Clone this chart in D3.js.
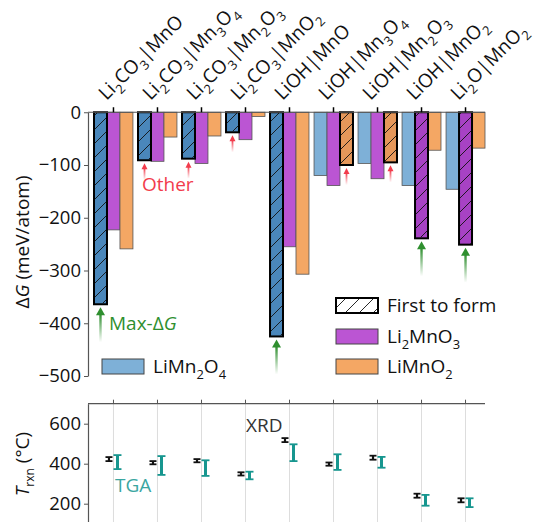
<!DOCTYPE html>
<html>
<head>
<meta charset="utf-8">
<script src="https://cdn.jsdelivr.net/npm/d3@7"></script>
<style>
  body { margin: 0; background: #fff; }
  text { font-family: "Open Sans", Lato, sans-serif; }
</style>
</head>
<body>
<div id="chart"></div>
<script>
// reaction pairs (digits become subscripts)
var categories = ["Li2CO3|MnO", "Li2CO3|Mn3O4", "Li2CO3|Mn2O3", "Li2CO3|MnO2",
                  "LiOH|MnO", "LiOH|Mn3O4", "LiOH|Mn2O3", "LiOH|MnO2", "Li2O|MnO2"];
var series = ["LiMn2O4", "Li2MnO3", "LiMnO2"];

// reaction energies, meV/atom
var dgLiMn2O4 = [-364, -91, -88, -38, -425, -120, -97, -139, -146];
var dgLi2MnO3 = [-223, -93, -97, -52, -255, -139, -126, -239, -251];
var dgLiMnO2  = [-259, -47, -45, -8, -307, -100, -95, -72, -68];
var firstToForm = ["LiMn2O4", "LiMn2O4", "LiMn2O4", "LiMn2O4", "LiMn2O4",
                   "LiMnO2", "LiMnO2", "Li2MnO3", "Li2MnO3"];

// reaction temperatures, degC
var xrdT   = [423, 405, 415, 349, 518, 398, 430, 240, 217];
var xrdErr = [10, 8, 8, 8, 10, 8, 10, 10, 10];
var tgaT   = [408, 391, 378, 341, 455, 408, 407, 217, 205];
var tgaErr = [35, 47, 39, 19, 42, 39, 27, 27, 22];

var dgTicks = [0, -100, -200, -300, -400, -500];
var tTicks = [200, 400, 600];

function init() {
    var w = 535, h = 522;
    var left = 88, right = 485;
    var fs = 19;

    var colors = { "LiMn2O4": "#7eb0d7", "Li2MnO3": "#bb55d3", "LiMnO2": "#f4a764" };
    var firstColors = { "LiMn2O4": "#4a87bb", "Li2MnO3": "#a742c4", "LiMnO2": "#e5975a" };
    var green = "#2f8f2f", red = "#f23c4c", teal = "#17968f";

    var dg = { "LiMn2O4": dgLiMn2O4, "Li2MnO3": dgLi2MnO3, "LiMnO2": dgLiMnO2 };

    var svg = d3.select("#chart").append("svg")
        .attr("width", w).attr("height", h);

    var defs = svg.append("defs");
    var hatch = defs.append("pattern")
        .attr("id", "hatch")
        .attr("patternUnits", "userSpaceOnUse")
        .attr("width", 14).attr("height", 14);
    hatch.append("path")
        .attr("d", "M-2,2 L2,-2 M0,14 L14,0 M12,16 L16,12")
        .attr("stroke", "#111").attr("stroke-width", 0.9);

    function fade(id, color) {
        var g = defs.append("linearGradient").attr("id", id)
            .attr("x1", 0).attr("y1", 0).attr("x2", 0).attr("y2", 1);
        g.append("stop").attr("offset", "0%").attr("stop-color", color).attr("stop-opacity", 1);
        g.append("stop").attr("offset", "100%").attr("stop-color", color).attr("stop-opacity", 0);
    }
    fade("fadeGreen", green);
    fade("fadeRed", red);

    // text with digits as subscripts
    function chem(sel, label, size, sub) {
        var parts = label.split(/(\d+)/).filter(function(p) { return p.length; });
        var shift = 0;
        parts.forEach(function(p) {
            var isSub = /^\d+$/.test(p);
            var dy = (isSub ? sub : 0) - shift;
            shift = isSub ? sub : 0;
            sel.append("tspan")
                .attr("dy", dy)
                .attr("font-size", isSub ? size * 0.68 : size)
                .text(p);
        });
    }

    // scales
    var xScale = d3.scaleBand().domain(categories)
        .range([left + 6, right]).paddingInner(0.115).paddingOuter(0);
    var xSub = d3.scaleBand().domain(series).range([0, xScale.bandwidth()]);
    var yScale = d3.scaleLinear().domain([-500, 0]).range([376, 112.25]);
    var tScale = d3.scaleLinear().domain([100, 700]).range([523.7, 403.7]);
    function cx(c) { return xScale(c) + xScale.bandwidth() / 2; }

    // ---------- top panel: bars ----------
    var rows = [];
    categories.forEach(function(c, i) {
        series.forEach(function(s) {
            rows.push({ cat: c, s: s, v: dg[s][i], first: firstToForm[i] === s });
        });
    });
    rows.sort(function(a, b) { return a.first - b.first; });

    var bars = svg.append("g");
    bars.selectAll("rect.bar").data(rows).enter().append("rect")
        .attr("class", "bar")
        .attr("x", function(d) { return xScale(d.cat) + xSub(d.s); })
        .attr("y", yScale(0))
        .attr("width", xSub.bandwidth())
        .attr("height", function(d) { return yScale(d.v) - yScale(0); })
        .attr("fill", function(d) { return d.first ? firstColors[d.s] : colors[d.s]; })
        .attr("stroke", function(d) { return d.first ? "#000" : "#555"; })
        .attr("stroke-width", function(d) { return d.first ? 2 : 0.8; });
    bars.selectAll("rect.hatch").data(rows.filter(function(d) { return d.first; }))
        .enter().append("rect")
        .attr("x", function(d) { return xScale(d.cat) + xSub(d.s) + 1; })
        .attr("y", yScale(0))
        .attr("width", xSub.bandwidth() - 2)
        .attr("height", function(d) { return yScale(d.v) - yScale(0) - 1; })
        .attr("fill", "url(#hatch)");

    // arrows under the first phase to form
    categories.forEach(function(c, i) {
        var f = firstToForm[i];
        var v = dg[f][i];
        var minV = d3.min(series, function(s) { return dg[s][i]; });
        var isMax = v <= minV;
        var ax = xScale(c) + xSub(f) + xSub.bandwidth() / 2;
        var top = yScale(v) + 3;
        var len = isMax ? 35 : 17;
        var hw = isMax ? 4.5 : 3;
        var hh = isMax ? 8 : 6;
        var g = svg.append("g");
        g.append("rect")
            .attr("x", ax - (isMax ? 1.2 : 0.9)).attr("y", top + hh - 1)
            .attr("width", isMax ? 2.4 : 1.8).attr("height", len - hh + 1)
            .attr("fill", isMax ? "url(#fadeGreen)" : "url(#fadeRed)");
        g.append("path")
            .attr("d", "M" + ax + "," + top + " L" + (ax + hw) + "," + (top + hh) +
                       " L" + (ax - hw) + "," + (top + hh) + "Z")
            .attr("fill", isMax ? green : red);
    });

    // axes
    svg.append("line")
        .attr("x1", left).attr("x2", right)
        .attr("y1", yScale(0)).attr("y2", yScale(0))
        .attr("stroke", "#555").attr("stroke-width", 1.2);
    svg.append("g")
        .attr("transform", "translate(0," + yScale(0) + ")")
        .call(d3.axisTop(xScale).tickSize(5).tickSizeOuter(0).tickFormat(""))
        .call(function(g) {
            g.select(".domain").remove();
            g.selectAll(".tick line").attr("stroke", "#000").attr("stroke-width", 1.5);
        });

    var yAxis = d3.axisLeft(yScale).tickValues(dgTicks).tickSize(4).tickSizeOuter(0).tickPadding(3);
    svg.append("g")
        .attr("transform", "translate(" + left + ",0)")
        .call(yAxis)
        .call(function(g) {
            g.select(".domain").attr("stroke", "#555").attr("stroke-width", 1.2);
            g.selectAll(".tick line").attr("stroke", "#555");
            g.selectAll(".tick text").attr("font-size", 18.5).attr("fill", "#111")
                .attr("font-family", "'Open Sans', sans-serif");
        });

    // category labels
    categories.forEach(function(c) {
        var t = svg.append("text")
            .attr("transform", "translate(" + (cx(c) - 7) + ",101) rotate(-45)")
            .attr("font-size", fs).attr("fill", "#111");
        chem(t, c, fs, 6);
    });

    // y label
    var yl = svg.append("text")
        .attr("transform", "translate(29,242) rotate(-90)")
        .attr("text-anchor", "middle").attr("font-size", fs).attr("fill", "#111");
    yl.append("tspan").text("Δ");
    yl.append("tspan").attr("font-style", "italic").text("G");
    yl.append("tspan").text(" (meV/atom)");

    // annotations
    svg.append("text").attr("x", 142).attr("y", 191)
        .attr("font-size", fs).attr("fill", red).text("Other");
    var mx = svg.append("text").attr("x", 109).attr("y", 330)
        .attr("font-size", fs).attr("fill", green);
    mx.append("tspan").text("Max-Δ");
    mx.append("tspan").attr("font-style", "italic").text("G");

    // legend
    var legend = [
        { x: 336, y: 298, label: "First to form", fill: "#fff", hatch: true },
        { x: 336, y: 329, label: "Li2MnO3", fill: colors["Li2MnO3"] },
        { x: 336, y: 359, label: "LiMnO2", fill: colors["LiMnO2"] },
        { x: 102, y: 359, label: "LiMn2O4", fill: colors["LiMn2O4"] }
    ];
    legend.forEach(function(d) {
        svg.append("rect").attr("x", d.x).attr("y", d.y).attr("width", 42).attr("height", 15)
            .attr("fill", d.fill)
            .attr("stroke", d.hatch ? "#000" : "#444").attr("stroke-width", d.hatch ? 2 : 1);
        if (d.hatch) {
            svg.append("rect").attr("x", d.x + 1).attr("y", d.y + 1).attr("width", 40).attr("height", 13)
                .attr("fill", "url(#hatch)");
        }
        var t = svg.append("text").attr("x", d.x + 51).attr("y", d.y + 14)
            .attr("font-size", fs).attr("fill", "#111");
        chem(t, d.label, fs, 6);
    });

    // ---------- bottom panel: reaction temperatures ----------
    var bottom = svg.append("g");
    bottom.selectAll("line.grid").data(categories).enter().append("line")
        .attr("x1", cx).attr("x2", cx)
        .attr("y1", tScale(700)).attr("y2", h)
        .attr("stroke", "#ddd").attr("stroke-width", 1);

    bottom.append("line")
        .attr("x1", left).attr("x2", right)
        .attr("y1", tScale(700)).attr("y2", tScale(700))
        .attr("stroke", "#555").attr("stroke-width", 1.2);
    bottom.append("g")
        .attr("transform", "translate(0," + tScale(700) + ")")
        .call(d3.axisTop(xScale).tickSize(4).tickSizeOuter(0).tickFormat(""))
        .call(function(g) {
            g.select(".domain").remove();
            g.selectAll(".tick line").attr("stroke", "#555");
        });
    bottom.append("g")
        .attr("transform", "translate(" + left + ",0)")
        .call(d3.axisLeft(tScale).tickValues(tTicks).tickSize(4).tickSizeOuter(0).tickPadding(3))
        .call(function(g) {
            g.select(".domain").attr("stroke", "#555").attr("stroke-width", 1.2);
            g.selectAll(".tick line").attr("stroke", "#555");
            g.selectAll(".tick text").attr("font-size", 18.5).attr("fill", "#111")
                .attr("font-family", "'Open Sans', sans-serif");
        });

    function errorBars(vals, errs, dx, color, lw, cap) {
        categories.forEach(function(c, i) {
            var x0 = cx(c) + dx;
            var y1 = tScale(vals[i] + errs[i]), y2 = tScale(vals[i] - errs[i]);
            var g = bottom.append("g").attr("stroke", color).attr("stroke-width", lw);
            g.append("line").attr("x1", x0).attr("x2", x0).attr("y1", y1).attr("y2", y2);
            g.append("line").attr("x1", x0 - cap / 2).attr("x2", x0 + cap / 2).attr("y1", y1).attr("y2", y1)
                .attr("stroke-width", 1.8);
            g.append("line").attr("x1", x0 - cap / 2).attr("x2", x0 + cap / 2).attr("y1", y2).attr("y2", y2)
                .attr("stroke-width", 1.8);
        });
    }
    errorBars(xrdT, xrdErr, -4.5, "#111", 2.2, 7);
    errorBars(tgaT, tgaErr, 4, teal, 3, 8);

    bottom.append("text").attr("x", 246).attr("y", 432)
        .attr("font-size", fs).attr("fill", "#333").text("XRD");
    bottom.append("text").attr("x", 115).attr("y", 492)
        .attr("font-size", fs).attr("fill", "#3aa6a1").text("TGA");

    var tl = svg.append("text")
        .attr("transform", "translate(29,464) rotate(-90)")
        .attr("text-anchor", "middle").attr("font-size", fs).attr("fill", "#111");
    tl.append("tspan").attr("font-style", "italic").text("T");
    tl.append("tspan").attr("font-size", 12).attr("dy", 5).text("rxn");
    tl.append("tspan").attr("dy", -5).text(" (°C)");
}
window.onload = init;
</script>
</body>
</html>
